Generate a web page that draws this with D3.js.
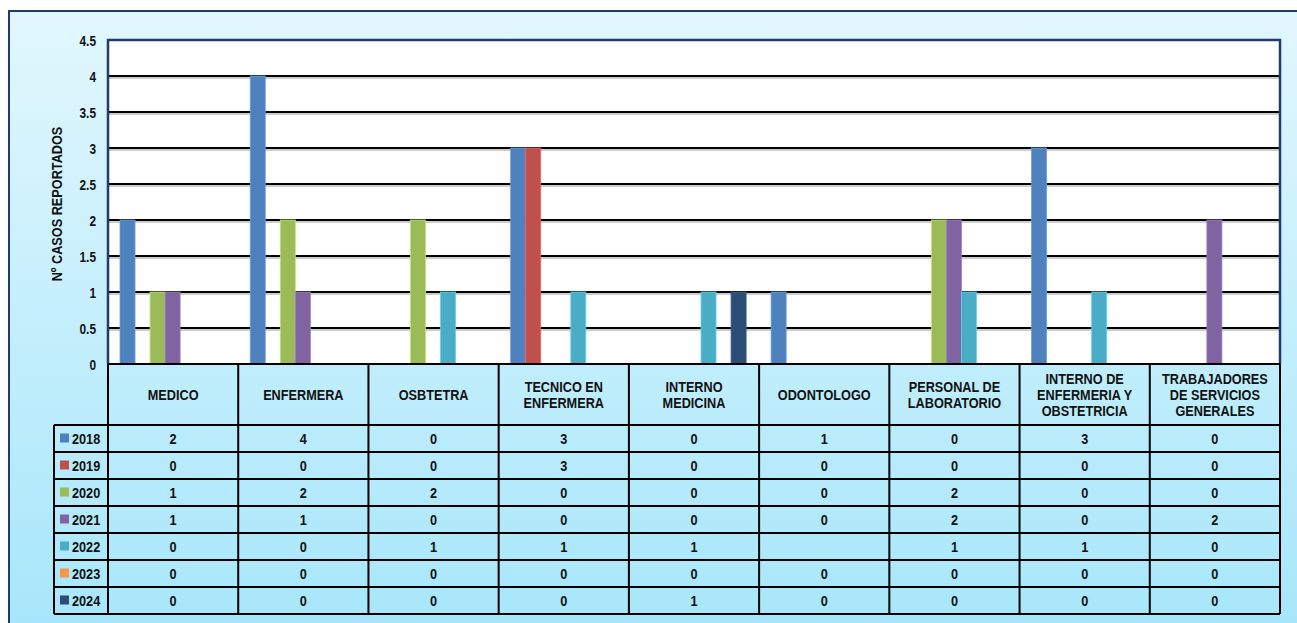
<!DOCTYPE html>
<html>
<head>
<meta charset="utf-8">
<script src="https://cdn.jsdelivr.net/npm/d3@7"></script>
<style>
  html, body { margin: 0; padding: 0; background: #ffffff; }
  svg { display: block; }
  text { font-family: "Liberation Sans", Arial, sans-serif; font-weight: bold; fill: #111; }
</style>
</head>
<body>
<svg id="chart" width="1297" height="623"></svg>
<script>
// Occupational categories (columns of the data table)
const categories = [
  ["MEDICO"],
  ["ENFERMERA"],
  ["OSBTETRA"],
  ["TECNICO EN", "ENFERMERA"],
  ["INTERNO", "MEDICINA"],
  ["ODONTOLOGO"],
  ["PERSONAL DE", "LABORATORIO"],
  ["INTERNO DE", "ENFERMERIA Y", "OBSTETRICIA"],
  ["TRABAJADORES", "DE SERVICIOS", "GENERALES"]
];
const years = ["2018", "2019", "2020", "2021", "2022", "2023", "2024"];
const colors = ["#4F81BD", "#C0504D", "#9BBB59", "#8064A2", "#4BACC6", "#F79646", "#2C4D75"];

// Cases reported per year (null = cell left empty in the table)
const v2018 = [2, 4, 0, 3, 0, 1, 0, 3, 0];
const v2019 = [0, 0, 0, 3, 0, 0, 0, 0, 0];
const v2020 = [1, 2, 2, 0, 0, 0, 2, 0, 0];
const v2021 = [1, 1, 0, 0, 0, 0, 2, 0, 2];
const v2022 = [0, 0, 1, 1, 1, null, 1, 1, 0];
const v2023 = [0, 0, 0, 0, 0, 0, 0, 0, 0];
const v2024 = [0, 0, 0, 0, 1, 0, 0, 0, 0];
const series = [v2018, v2019, v2020, v2021, v2022, v2023, v2024];

const yTicks = [0, 0.5, 1, 1.5, 2, 2.5, 3, 3.5, 4, 4.5];
const yTitle = "Nº CASOS REPORTADOS";

// Condensed look: regular bold sans squeezed horizontally
const SQUEEZE = 0.82;
const FS = 15.5;

const svg = d3.select("#chart");

function narrowText(parent, x, yy, str, size, anchor) {
  return parent.append("text")
    .attr("transform", `translate(${x},${yy}) scale(${SQUEEZE},1)`)
    .attr("text-anchor", anchor || "middle")
    .attr("font-size", size)
    .text(str);
}

// Background panel with vertical gradient
const defs = svg.append("defs");
const grad = defs.append("linearGradient").attr("id", "bg").attr("x1", 0).attr("y1", 0).attr("x2", 0).attr("y2", 1);
grad.append("stop").attr("offset", "0%").attr("stop-color", "#e2f7fd");
grad.append("stop").attr("offset", "100%").attr("stop-color", "#a6e6fb");

svg.append("rect")
  .attr("x", 9).attr("y", 11).attr("width", 1300).attr("height", 630)
  .attr("fill", "url(#bg)").attr("stroke", "#1f3b70").attr("stroke-width", 2);

// Plot geometry
const plotLeft = 108, plotRight = 1280, plotTop = 40, zeroY = 364;
const headerH = 61, rowH = 27, legendLeft = 54;

const y = d3.scaleLinear().domain([0, 4.5]).range([zeroY, plotTop]);
const x0 = d3.scaleBand().domain(d3.range(categories.length)).range([plotLeft, plotRight]).padding(0);
const x1 = d3.scaleBand().domain(years).range([12, x0.bandwidth() - 13]).padding(0);

// Plot area
svg.append("rect")
  .attr("x", plotLeft).attr("y", plotTop).attr("width", plotRight - plotLeft).attr("height", zeroY - plotTop)
  .attr("fill", "#ffffff");

// Gridlines with soft shadow
const grid = svg.append("g");
yTicks.filter(t => t > 0 && t < 4.5).forEach(t => {
  grid.append("line").attr("x1", plotLeft).attr("x2", plotRight)
    .attr("y1", y(t) + 2).attr("y2", y(t) + 2)
    .attr("stroke", "#bdbdbd").attr("stroke-width", 1.5);
  grid.append("line").attr("x1", plotLeft).attr("x2", plotRight)
    .attr("y1", y(t)).attr("y2", y(t))
    .attr("stroke", "#000").attr("stroke-width", 2);
});

// Bars
const bars = svg.append("g");
series.forEach((vals, si) => {
  bars.selectAll(null)
    .data(vals.map((v, ci) => ({ v: v || 0, ci })).filter(d => d.v > 0))
    .join("rect")
    .attr("x", d => x0(d.ci) + x1(years[si]))
    .attr("y", d => y(d.v))
    .attr("width", x1.bandwidth())
    .attr("height", d => zeroY - y(d.v))
    .attr("fill", colors[si])
    .attr("stroke", d3.color(colors[si]).brighter(0.6))
    .attr("stroke-width", 0.8);
});

// Plot frame (navy left/top/right)
svg.append("path")
  .attr("d", `M${plotLeft},${zeroY}V${plotTop}H${plotRight}V${zeroY}`)
  .attr("fill", "none").attr("stroke", "#1f3b70").attr("stroke-width", 2.5);

// Y axis labels
const yAxis = d3.axisLeft(y).tickValues(yTicks).tickSize(0).tickFormat(d3.format(""));
const ya = svg.append("g").attr("transform", `translate(${plotLeft},0)`).call(yAxis);
ya.select(".domain").remove();
ya.attr("font-family", null).attr("font-size", null);
ya.selectAll("text")
  .attr("font-size", 14.5).attr("fill", "#111")
  .attr("x", null).attr("dy", null)
  .attr("transform", `translate(-12,5) scale(${SQUEEZE},1)`);

svg.append("text")
  .attr("transform", `translate(62,204) rotate(-90) scale(${SQUEEZE},1)`)
  .attr("text-anchor", "middle").attr("font-size", 15.5)
  .text(yTitle);

// Data table
const table = svg.append("g");
const tableBottom = zeroY + headerH + rowH * years.length;
const lineAttrs = sel => sel.attr("stroke", "#000").attr("stroke-width", 2);

// Column header cells
categories.forEach((lines, ci) => {
  const cx = x0(ci) + x0.bandwidth() / 2;
  const cy = zeroY + headerH / 2 + 5.5;
  lines.forEach((ln, li) => {
    narrowText(table, cx, cy + (li - (lines.length - 1) / 2) * 16, ln, FS);
  });
});

// Row cells
years.forEach((yr, si) => {
  const rowTop = zeroY + headerH + rowH * si;
  const cy = rowTop + rowH / 2 + 5.5;
  table.append("rect").attr("x", legendLeft + 6).attr("y", rowTop + rowH / 2 - 5)
    .attr("width", 9).attr("height", 9).attr("fill", colors[si]);
  narrowText(table, legendLeft + 18, cy, yr, FS, "start");
  series[si].forEach((v, ci) => {
    narrowText(table, x0(ci) + x0.bandwidth() / 2, cy, v === null ? "" : v, FS);
  });
});

// Table grid lines
d3.range(years.length + 1).forEach(i => {
  const yy = zeroY + headerH + rowH * i;
  table.append("line").attr("x1", legendLeft).attr("x2", plotRight).attr("y1", yy).attr("y2", yy).call(lineAttrs);
});
table.append("line").attr("x1", plotLeft).attr("x2", plotRight).attr("y1", zeroY).attr("y2", zeroY).call(lineAttrs);
d3.range(categories.length + 1).forEach(ci => {
  const xx = ci < categories.length ? x0(ci) : plotRight;
  table.append("line").attr("x1", xx).attr("x2", xx).attr("y1", zeroY).attr("y2", tableBottom).call(lineAttrs);
});
table.append("line").attr("x1", legendLeft).attr("x2", legendLeft)
  .attr("y1", zeroY + headerH).attr("y2", tableBottom).call(lineAttrs);
</script>
</body>
</html>
